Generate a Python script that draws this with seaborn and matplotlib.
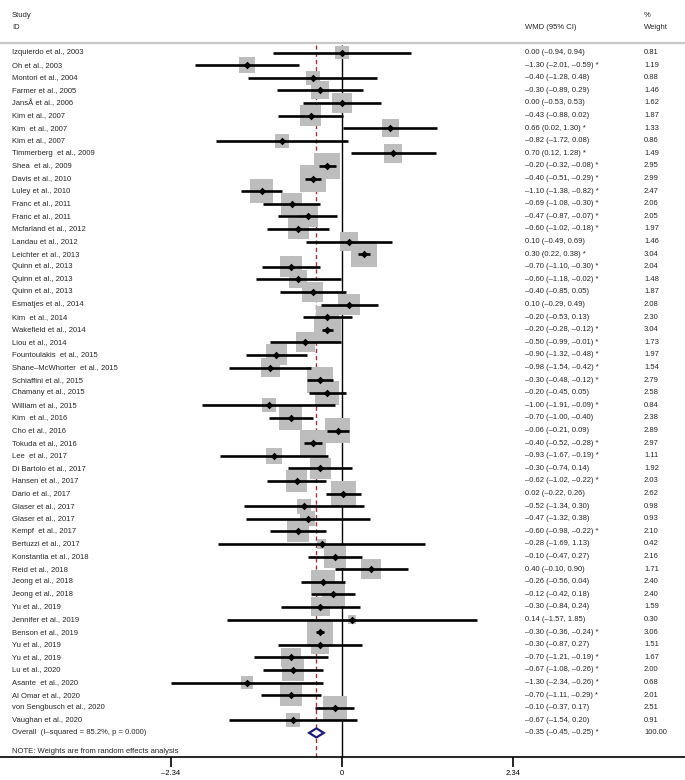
import numpy as np
import pandas as pd
import matplotlib
matplotlib.use("Agg")
import matplotlib.pyplot as plt
from matplotlib.patches import Polygon
import seaborn as sns

# study data
studies = ["Izquierdo et al., 2003", "Oh et al., 2003", "Montori et al., 2004", "Farmer et al., 2005",
           "JansÅ et al., 2006", "Kim et al., 2007", "Kim  et al., 2007", "Kim et al., 2007",
           "Timmerberg  et al., 2009", "Shea  et al., 2009", "Davis et al., 2010", "Luley et al., 2010",
           "Franc et al., 2011", "Franc et al., 2011", "Mcfarland et al., 2012", "Landau et al., 2012",
           "Leichter et al., 2013", "Quinn et al., 2013", "Quinn et al., 2013", "Quinn et al., 2013",
           "Esmatjes et al., 2014", "Kim  et al., 2014", "Wakefield et al., 2014", "Liou et al., 2014",
           "Fountoulakis  et al., 2015", "Shane–McWhorter  et al., 2015", "Schiaffini et al., 2015",
           "Chamany et al., 2015", "William et al., 2015", "Kim  et al., 2016", "Cho et al., 2016",
           "Tokuda et al., 2016", "Lee  et al., 2017", "Di Bartolo et al., 2017", "Hansen et al., 2017",
           "Dario et al., 2017", "Glaser et al., 2017", "Glaser et al., 2017", "Kempf  et al., 2017",
           "Bertuzzi et al., 2017", "Konstantia et al., 2018", "Reid et al., 2018", "Jeong et al., 2018",
           "Jeong et al., 2018", "Yu et al., 2019", "Jennifer et al., 2019", "Benson et al., 2019",
           "Yu et al., 2019", "Yu et al., 2019", "Lu et al., 2020", "Asante  et al., 2020",
           "Al Omar et al., 2020", "von Sengbusch et al., 2020", "Vaughan et al., 2020"]
wmd = [0.00, -1.30, -0.40, -0.30, 0.00, -0.43, 0.66, -0.82, 0.70, -0.20, -0.40, -1.10, -0.69, -0.47,
       -0.60, 0.10, 0.30, -0.70, -0.60, -0.40, 0.10, -0.20, -0.20, -0.50, -0.90, -0.98, -0.30, -0.20,
       -1.00, -0.70, -0.06, -0.40, -0.93, -0.30, -0.62, 0.02, -0.52, -0.47, -0.60, -0.28, -0.10, 0.40,
       -0.26, -0.12, -0.30, 0.14, -0.30, -0.30, -0.70, -0.67, -1.30, -0.70, -0.10, -0.67]
ci_low = [-0.94, -2.01, -1.28, -0.89, -0.53, -0.88, 0.02, -1.72, 0.12, -0.32, -0.51, -1.38, -1.08, -0.87,
          -1.02, -0.49, 0.22, -1.10, -1.18, -0.85, -0.29, -0.53, -0.28, -0.99, -1.32, -1.54, -0.48, -0.45,
          -1.91, -1.00, -0.21, -0.52, -1.67, -0.74, -1.02, -0.22, -1.34, -1.32, -0.98, -1.69, -0.47, -0.10,
          -0.56, -0.42, -0.84, -1.57, -0.36, -0.87, -1.21, -1.08, -2.34, -1.11, -0.37, -1.54]
ci_high = [0.94, -0.59, 0.48, 0.29, 0.53, 0.02, 1.30, 0.08, 1.28, -0.08, -0.29, -0.82, -0.30, -0.07,
           -0.18, 0.69, 0.38, -0.30, -0.02, 0.05, 0.49, 0.13, -0.12, -0.01, -0.48, -0.42, -0.12, 0.05,
           -0.09, -0.40, 0.09, -0.28, -0.19, 0.14, -0.22, 0.26, 0.30, 0.38, -0.22, 1.13, 0.27, 0.90,
           0.04, 0.18, 0.24, 1.85, -0.24, 0.27, -0.19, -0.26, -0.26, -0.29, 0.17, 0.20]
weights = [0.81, 1.19, 0.88, 1.46, 1.62, 1.87, 1.33, 0.86, 1.49, 2.95, 2.99, 2.47, 2.06, 2.05, 1.97, 1.46,
           3.04, 2.04, 1.48, 1.87, 2.08, 2.30, 3.04, 1.73, 1.97, 1.54, 2.79, 2.58, 0.84, 2.38, 2.89, 2.97,
           1.11, 1.92, 2.03, 2.62, 0.98, 0.93, 2.10, 0.42, 2.16, 1.71, 2.40, 2.40, 1.59, 0.30, 3.06, 1.51,
           1.67, 2.00, 0.68, 2.01, 2.51, 0.91]
starred = [0, 1, 0, 0, 0, 0, 1, 0, 1, 1, 1, 1, 1, 1, 1, 0, 1, 1, 1, 0, 0, 0, 1, 1, 1, 1, 1, 0, 1, 0, 0, 1,
           1, 0, 1, 0, 0, 0, 1, 0, 0, 0, 0, 0, 0, 0, 1, 0, 1, 1, 1, 1, 0, 0]

overall_label = "Overall  (I–squared = 85.2%, p = 0.000)"
overall_est, overall_low, overall_high = -0.35, -0.45, -0.25
overall_weight = 100.00
tick_values = [-2.34, 0, 2.34]
note_text = "NOTE: Weights are from random effects analysis"

df = pd.DataFrame({"study": studies, "wmd": wmd, "lo": ci_low, "hi": ci_high,
                   "weight": weights, "star": starred})
df["row"] = np.arange(len(df))


def fmt(v):
    return f"{v:.2f}".replace("-", "–")


sns.set_theme(style="white")
plt.rcParams["font.family"] = ["Liberation Sans", "DejaVu Sans"]
fs = 5.5

# layout in pixels -> row units
W, H = 685, 780
row_px = 12.6
first_px = 52.5
axis_px = 757
n = len(df)
overall_row = n
y_bottom = (axis_px - first_px) / row_px

fig = plt.figure(figsize=(W / 100, H / 100), dpi=100)
ax = fig.add_axes([0, (H - axis_px) / H, 1, axis_px / H])
ax.set_xlim(-342 / 73.1, (W - 342) / 73.1)
ax.set_ylim(y_bottom, -first_px / row_px)

# reference lines
ax.vlines(0, -0.58, y_bottom, color="black", lw=1.0, zorder=1)
ax.vlines(overall_est, -0.58, y_bottom, color="#a83232", lw=1.0,
          linestyles=(0, (3, 2.2)), zorder=1)

# weight boxes (area proportional to weight)
sns.scatterplot(data=df, x="wmd", y="row", marker="s", s=df["weight"] * 118.0,
                color="#bdbdbd", linewidth=0, legend=False, ax=ax, zorder=2)
ax.hlines(df["row"], df["lo"], df["hi"], color="black", lw=1.9, zorder=3)
sns.scatterplot(data=df, x="wmd", y="row", marker="D", s=15, color="black",
                linewidth=0, legend=False, ax=ax, zorder=4)

# overall diamond
h = 0.36
ax.add_patch(Polygon([(overall_low, overall_row), (overall_est, overall_row - h),
                      (overall_high, overall_row), (overall_est, overall_row + h)],
                     closed=True, facecolor="white", edgecolor="#1c1c84", lw=1.6, zorder=4))

# text columns
x_lab = ax.get_xlim()[0] + 12 / 73.1
x_ci = (525 - 342) / 73.1
x_w = (644 - 342) / 73.1
for _, r in df.iterrows():
    ax.text(x_lab, r["row"], r["study"], fontsize=fs, va="center", ha="left")
    ci_txt = f"{fmt(r['wmd'])} ({fmt(r['lo'])}, {fmt(r['hi'])})" + (" *" if r["star"] else "")
    ax.text(x_ci, r["row"], ci_txt, fontsize=fs, va="center", ha="left")
    ax.text(x_w, r["row"], f"{r['weight']:.2f}", fontsize=fs, va="center", ha="left")

ax.text(x_lab, overall_row, overall_label, fontsize=fs, va="center", ha="left")
ax.text(x_ci, overall_row, f"{fmt(overall_est)} ({fmt(overall_low)}, {fmt(overall_high)}) *",
        fontsize=fs, va="center", ha="left")
ax.text(x_w, overall_row, f"{overall_weight:.2f}", fontsize=fs, va="center", ha="left")
ax.text(x_lab, overall_row + 1.45, note_text, fontsize=fs, va="center", ha="left")

# header
ax.text(x_lab, -2.95, "Study", fontsize=fs, va="center", ha="left")
ax.text(x_lab, -1.95, "ID", fontsize=fs, va="center", ha="left")
ax.text(x_ci, -1.95, "WMD (95% CI)", fontsize=fs, va="center", ha="left")
ax.text(x_w, -2.95, "%", fontsize=fs, va="center", ha="left")
ax.text(x_w, -1.95, "Weight", fontsize=fs, va="center", ha="left")
ax.axhline(-0.76, color="#c8c8c8", lw=1.6, zorder=1)

# axis
for s in ["left", "top", "right"]:
    ax.spines[s].set_visible(False)
ax.spines["bottom"].set_color("black")
ax.spines["bottom"].set_linewidth(1.2)
ax.set_yticks([])
ax.set_xticks(tick_values)
ax.set_xticklabels([fmt(t) if t != 0 else "0" for t in tick_values], fontsize=fs)
ax.tick_params(axis="x", direction="out", length=7.2, width=1.2, pad=2.5, colors="black", bottom=True)
ax.set_xlabel("")
ax.set_ylabel("")

fig.savefig("out.png", dpi=100)
